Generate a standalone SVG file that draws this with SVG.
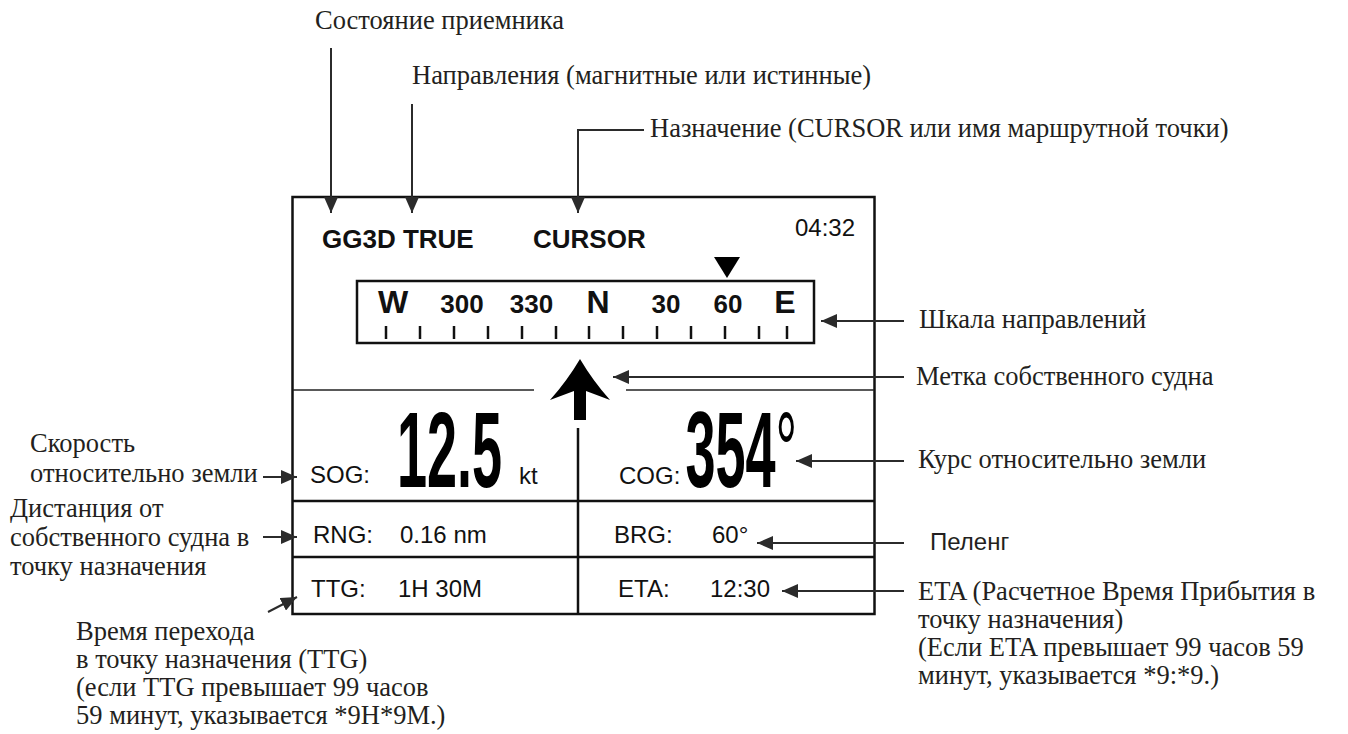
<svg xmlns="http://www.w3.org/2000/svg" width="1348" height="734" viewBox="0 0 1348 734">
<style>
.ann{font-family:"Liberation Serif","Times New Roman",serif;font-size:26.5px;fill:#231f20}
.annS{font-family:"Liberation Sans",Arial,sans-serif;font-size:24px;fill:#231f20}
.t{font-family:"Liberation Sans",Arial,sans-serif;font-size:24px;fill:#111}
.b{font-family:"Liberation Sans",Arial,sans-serif;font-weight:bold;fill:#111}
.big{font-family:"Liberation Sans",Arial,sans-serif;font-weight:bold;font-size:108px;fill:#000}
.frame{fill:none;stroke:#111;stroke-width:2.5}
.thin{fill:none;stroke:#222;stroke-width:1.6}
.tick{stroke:#111;stroke-width:2.5}
.lead{fill:none;stroke:#2b2b2b;stroke-width:2;marker-end:url(#ah)}
</style>
<defs>
<marker id="ah" markerUnits="userSpaceOnUse" markerWidth="16" markerHeight="14" viewBox="0 0 16 14" refX="16" refY="7" orient="auto">
<path d="M0,0 L16,7 L0,14 z" fill="#2b2b2b"/>
</marker>
</defs>

<g id="display">
<rect class="frame" x="292.5" y="197" width="582" height="417"/>
<text class="b" x="322" y="248" font-size="26">GG3D TRUE</text>
<text class="b" x="533" y="248" font-size="26">CURSOR</text>
<text class="t" x="795" y="236" font-size="25">04:32</text>
</g>

<g id="compass">
<rect class="frame" x="357" y="281" width="457" height="62"/>
<path d="M714,257 L740,257 L727,278 z" fill="#000"/>
<text class="b" font-size="32" text-anchor="middle" x="393" y="313">W</text>
<text class="b" font-size="26" text-anchor="middle" x="462" y="313">300</text>
<text class="b" font-size="26" text-anchor="middle" x="531.5" y="313">330</text>
<text class="b" font-size="32" text-anchor="middle" x="598" y="313">N</text>
<text class="b" font-size="26" text-anchor="middle" x="666" y="313">30</text>
<text class="b" font-size="26" text-anchor="middle" x="728" y="313">60</text>
<text class="b" font-size="32" text-anchor="middle" x="785" y="313">E</text>
<g class="tick">
<line x1="386" y1="326" x2="386" y2="339"/><line x1="420" y1="326" x2="420" y2="339"/>
<line x1="454" y1="326" x2="454" y2="339"/><line x1="488" y1="326" x2="488" y2="339"/>
<line x1="522" y1="326" x2="522" y2="339"/><line x1="556" y1="326" x2="556" y2="339"/>
<line x1="589" y1="326" x2="589" y2="339"/><line x1="623" y1="326" x2="623" y2="339"/>
<line x1="657" y1="326" x2="657" y2="339"/><line x1="691" y1="326" x2="691" y2="339"/>
<line x1="725" y1="326" x2="725" y2="339"/><line x1="759" y1="326" x2="759" y2="339"/>
<line x1="787" y1="326" x2="787" y2="339"/>
</g>
</g>

<g id="own-ship">
<path d="M580,359 Q593,381 610,400 L586,391 L586,420 L574,420 L574,391 L550,400 Q567,381 580,359 z" fill="#000"/>
</g>

<g id="grid">
<line class="thin" x1="293" y1="390" x2="534" y2="390"/>
<line class="thin" x1="626" y1="390" x2="874" y2="390"/>
<line class="frame" x1="293" y1="501" x2="874" y2="501"/>
<line class="frame" x1="293" y1="557" x2="874" y2="557"/>
<line class="frame" x1="578" y1="428" x2="578" y2="614"/>
</g>

<g id="sog">
<text class="t" x="310" y="483">SOG:</text>
<text class="big" transform="translate(397,487) scale(0.5,1)">12.5</text>
<text class="t" x="519" y="484" font-size="20">kt</text>
</g>
<g id="cog">
<text class="t" x="619" y="484">COG:</text>
<text class="big" transform="translate(685.5,487) scale(0.5,1)">354<tspan font-weight="normal">°</tspan></text>
</g>
<g id="rng">
<text class="t" x="313" y="543">RNG:</text>
<text class="t" x="400" y="543">0.16 nm</text>
</g>
<g id="brg">
<text class="t" x="614" y="543">BRG:</text>
<text class="t" x="712" y="543">60°</text>
</g>
<g id="ttg">
<text class="t" x="311" y="597">TTG:</text>
<text class="t" x="398" y="597">1H 30M</text>
</g>
<g id="eta">
<text class="t" x="618" y="597">ETA:</text>
<text class="t" x="710" y="597">12:30</text>
</g>

<g id="labels">
<text class="ann" x="315" y="29">Состояние приемника</text>
<text class="ann" x="412" y="84">Направления (магнитные или истинные)</text>
<text class="ann" x="650" y="137">Назначение (CURSOR или имя маршрутной точки)</text>
<text class="ann" x="919" y="328">Шкала направлений</text>
<text class="ann" x="916" y="385">Метка собственного судна</text>
<text class="ann" x="918" y="468">Курс относительно земли</text>
<text class="annS" x="930" y="550">Пеленг</text>
<text class="ann" x="918" y="600">ETA (Расчетное Время Прибытия в</text>
<text class="ann" x="918" y="628">точку назначения)</text>
<text class="ann" x="918" y="656">(Если ETA превышает 99 часов 59</text>
<text class="ann" x="918" y="684">минут, указывается *9:*9.)</text>
<text class="ann" x="30" y="452">Скорость</text>
<text class="ann" x="30" y="482">относительно земли</text>
<text class="ann" x="10" y="517">Дистанция от</text>
<text class="ann" x="10" y="546">собственного судна в</text>
<text class="ann" x="10" y="575">точку назначения</text>
<text class="ann" x="76" y="640">Время перехода</text>
<text class="ann" x="76" y="668">в точку назначения (TTG)</text>
<text class="ann" x="76" y="696">(если TTG превышает 99 часов</text>
<text class="ann" x="76" y="724">59 минут, указывается *9H*9M.)</text>
</g>

<g id="connectors">
<path class="lead" d="M331,48 V213"/>
<path class="lead" d="M412,104 V213"/>
<path class="lead" d="M644,130 H578 V213"/>
<path class="lead" d="M904,321 H821"/>
<path class="lead" d="M904,377 H613"/>
<path class="lead" d="M904,461 H796"/>
<path class="lead" d="M904,543 H757"/>
<path class="lead" d="M904,591 H782"/>
<path class="lead" d="M263,477 H297"/>
<path class="lead" d="M263,537 H297"/>
<path class="lead" d="M268,612 L297,597"/>
</g>
</svg>
